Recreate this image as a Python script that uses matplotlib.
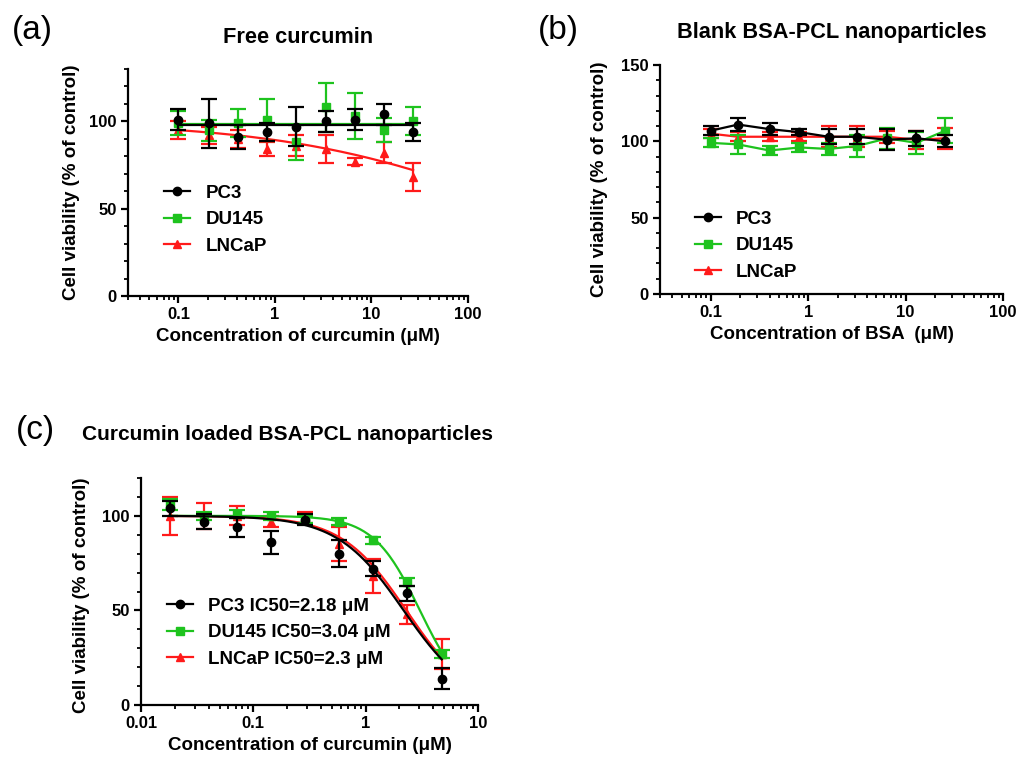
import numpy as np
import matplotlib
matplotlib.use("Agg")
import matplotlib.pyplot as plt
from matplotlib.lines import Line2D
from matplotlib.ticker import LogLocator, NullFormatter, MultipleLocator

plt.rcParams['font.family'] = ['Liberation Sans', 'DejaVu Sans']
plt.rcParams['font.weight'] = 'bold'

# ---- data ----
lines_names = ["PC3", "DU145", "LNCaP"]
colors = ["black", "#1ec31e", "#ff1a1a"]
markers = ["o", "s", "^"]

# (a) free curcumin
conc_a = [0.1, 0.205, 0.41, 0.83, 1.65, 3.35, 6.7, 13.4, 27]
pc3_a = [101, 99, 91, 94, 97, 100, 101, 104, 94]
pc3_a_sd = [6, 14, 7, 5, 11, 6, 6, 6, 5]
du145_a = [99, 95, 99, 101, 88, 108, 103, 95, 100]
du145_a_sd = [7, 6, 8, 12, 10, 14, 13, 7, 8]
lncap_a = [95, 92, 90, 84, 86, 84, 77, 82, 68]
lncap_a_sd = [5, 5, 5, 4, 6, 8, 2, 6, 8]
# fitted curves: top, bottom, IC50, hill slope
fit_a = [(98.2, 98.2, 1.0, 1.0), (98.4, 98.4, 1.0, 1.0), (100, 0, 384, 0.357)]

# (b) blank BSA-PCL nanoparticles
conc_b = [0.1, 0.19, 0.4, 0.81, 1.62, 3.2, 6.5, 12.9, 25.6]
pc3_b = [107, 111, 108, 106, 103, 103, 101, 102, 100]
pc3_b_sd = [3, 4, 4, 2, 5, 5, 7, 5, 4]
du145_b = [99, 98, 94, 96, 95, 97, 102, 99, 107]
du145_b_sd = [3, 6, 3, 3, 4, 7, 7, 7, 8]
lncap_b = [105, 103, 103, 103, 103, 103, 103, 101, 102]
lncap_b_sd = [3, 3, 3, 3, 7, 7, 4, 6, 7]

# (c) curcumin loaded BSA-PCL nanoparticles
conc_c = [0.0182, 0.0365, 0.072, 0.145, 0.29, 0.58, 1.16, 2.33, 4.75]
pc3_c = [104, 97, 94, 86, 98, 80, 72, 59, 14]
pc3_c_sd = [4, 4, 5, 6, 3, 7, 4, 4, 5.5]
du145_c = [106, 100, 101, 100, 98, 97, 87, 65, 27]
du145_c_sd = [3, 2, 2, 2, 2, 2, 2, 2, 2]
lncap_c = [100, 100, 100, 97, 99, 85, 68, 48, 27]
lncap_c_sd = [10, 7, 5, 3, 3, 9, 9, 5, 8]
ic50_c = [2.18, 3.04, 2.3]
fit_c = [(100, 0, 2.18, 1.47), (100, 0, 3.04, 2.1), (100, 0, 2.3, 1.5)]
legend_c = ["PC3 IC50=2.18 \u03bcM", "DU145 IC50=3.04 \u03bcM", "LNCaP IC50=2.3 \u03bcM"]


def hill(x, top, bottom, ic50, slope):
    return bottom + (top - bottom) / (1 + (x / ic50) ** slope)


def style_axes(ax, xmin, xmax, ymax, xticks, xlabels):
    ax.set_xscale('log')
    ax.set_xlim(xmin, xmax)
    ax.set_ylim(0, ymax)
    for s in ['top', 'right']:
        ax.spines[s].set_visible(False)
    for s in ['left', 'bottom']:
        ax.spines[s].set_linewidth(1.6)
    ax.set_xticks(xticks)
    ax.set_xticklabels(xlabels)
    ax.xaxis.set_minor_locator(LogLocator(base=10, subs=np.arange(2, 10)))
    ax.xaxis.set_minor_formatter(NullFormatter())
    ax.yaxis.set_major_locator(MultipleLocator(50))
    ax.yaxis.set_minor_locator(MultipleLocator(10))
    ax.tick_params(which='major', length=5, width=1.6, labelsize=12, pad=3)
    ax.tick_params(which='minor', length=3, width=1.3)
    for t in ax.get_xticklabels() + ax.get_yticklabels():
        t.set_fontweight('bold')


def draw_series(ax, x, ys, sds, fits=None):
    # red drawn first, black last (on top)
    for i in [2, 1, 0]:
        ax.errorbar(x, ys[i], yerr=sds[i], fmt=markers[i], color=colors[i],
                    ms=6, elinewidth=1.6, capsize=5.5, capthick=1.6,
                    ls='none', zorder=3 + (2 - i))
        if fits is None:
            ax.plot(x, ys[i], color=colors[i], lw=1.6, zorder=3 + (2 - i))
        else:
            xs = np.logspace(np.log10(x[0]), np.log10(x[-1]), 200)
            ax.plot(xs, hill(xs, *fits[i]), color=colors[i], lw=1.6,
                    zorder=3 + (2 - i))


def add_legend(ax, labels, x, y):
    handles = [Line2D([], [], color=colors[i], marker=markers[i], ms=6, lw=1.6)
               for i in range(3)]
    ax.legend(handles, labels, loc='upper left', bbox_to_anchor=(x, y),
              frameon=False, borderpad=0, borderaxespad=0, handlelength=1.4,
              handletextpad=0.8, labelspacing=0.5,
              prop={'size': 13.5, 'weight': 'bold'})


fig = plt.figure(figsize=(10.2, 7.62), dpi=100)
W, H = 1020, 762


def axes_px(left, right, top, bottom):
    return fig.add_axes([left / W, 1 - bottom / H, (right - left) / W, (bottom - top) / H])


ylab = "Cell viability (% of control)"

# (a)
ax_a = axes_px(128, 468, 69, 296)
draw_series(ax_a, conc_a, [pc3_a, du145_a, lncap_a],
            [pc3_a_sd, du145_a_sd, lncap_a_sd], fits=fit_a)
style_axes(ax_a, 0.03, 100, 130, [0.1, 1, 10, 100], ["0.1", "1", "10", "100"])
ax_a.set_title("Free curcumin", fontsize=15.7, fontweight='bold', y=1.08)
ax_a.set_xlabel("Concentration of curcumin (\u03bcM)", fontsize=13.5, fontweight='bold')
ax_a.set_ylabel(ylab, fontsize=13.5, fontweight='bold')
ax_a.yaxis.set_label_coords(-0.141, 0.5)
add_legend(ax_a, lines_names, 0.106, 0.49)

# (b)
ax_b = axes_px(660, 1003, 65, 294)
draw_series(ax_b, conc_b, [pc3_b, du145_b, lncap_b],
            [pc3_b_sd, du145_b_sd, lncap_b_sd])
style_axes(ax_b, 0.03, 100, 150, [0.1, 1, 10, 100], ["0.1", "1", "10", "100"])
ax_b.set_title("Blank BSA-PCL nanoparticles", fontsize=15.7, fontweight='bold', y=1.08)
ax_b.set_xlabel("Concentration of BSA  (\u03bcM)", fontsize=13.5, fontweight='bold')
ax_b.set_ylabel(ylab, fontsize=13.5, fontweight='bold')
ax_b.yaxis.set_label_coords(-0.152, 0.5)
add_legend(ax_b, lines_names, 0.102, 0.363)

# (c)
ax_c = axes_px(141, 478, 478, 705)
draw_series(ax_c, conc_c, [pc3_c, du145_c, lncap_c],
            [pc3_c_sd, du145_c_sd, lncap_c_sd], fits=fit_c)
style_axes(ax_c, 0.01, 10, 120, [0.01, 0.1, 1, 10], ["0.01", "0.1", "1", "10"])
ax_c.set_title("Curcumin loaded BSA-PCL nanoparticles", fontsize=15,
               fontweight='bold', x=0.436, y=1.13)
ax_c.set_xlabel("Concentration of curcumin (\u03bcM)", fontsize=13.5, fontweight='bold')
ax_c.set_ylabel(ylab, fontsize=13.5, fontweight='bold')
ax_c.yaxis.set_label_coords(-0.151, 0.485)
add_legend(ax_c, legend_c, 0.077, 0.472)

# panel letters
for lab, px, py in [("(a)", 32, 31), ("(b)", 558, 30), ("(c)", 35, 430)]:
    fig.text(px / W, 1 - py / H, lab, fontsize=24, fontweight='normal',
             ha='center', va='center')

fig.savefig("out.png", dpi=100)
